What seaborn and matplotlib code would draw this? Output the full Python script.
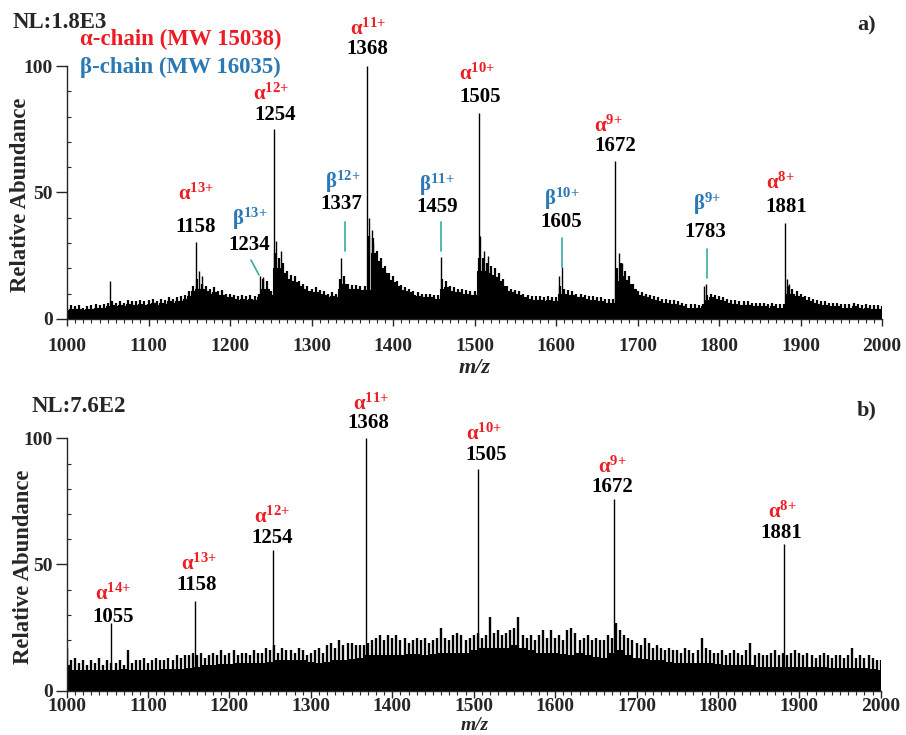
import numpy as np
import pandas as pd
import matplotlib
matplotlib.use("Agg")
import matplotlib.pyplot as plt
import seaborn as sns
from matplotlib.ticker import MultipleLocator

# ---- data ----
mz_fine = np.arange(1000, 2001, 5)     # 5 m/z grid
mz_coarse = np.arange(1000, 2001, 10)  # 10 m/z grid

# a) upper edge of the dense signal (relative abundance, 5 m/z steps)
top_profile = [
    4.5, 5.5, 5, 5.5, 4.5, 5, 5.5, 6, 5.5, 6,
    6.5, 7, 6.5, 7, 6.5, 7.5, 7, 7, 7.5, 7,
    7.5, 8, 7, 8, 7.5, 8.5, 8, 8.5, 9, 9.5,
    11, 13, 16, 14, 13, 12, 12.5, 11, 11.5, 10,
    10, 9.5, 9, 9.5, 9, 9.5, 9, 10, 16, 15,
    11, 26, 24, 22, 19, 17.5, 17, 15, 14, 13,
    12, 12.5, 11.5, 11, 10, 10.5, 10, 16, 17, 14,
    13.5, 13.5, 13, 13, 33, 32, 27, 24, 21, 18,
    17, 15, 13.5, 12.5, 12, 11, 10.5, 10, 10, 10,
    9.5, 9.5, 16, 15, 13, 12.5, 12, 12, 11.5, 11,
    11, 24, 24, 22, 21, 20, 18, 16, 13, 12,
    11.5, 11, 10, 9.5, 9, 9, 9, 8.5, 9, 8.5,
    8.5, 13, 12, 11.5, 11, 10, 10, 9.5, 9, 9,
    8.5, 8.5, 8, 8, 8, 20, 22, 19, 17, 14,
    11, 10.5, 10, 9.5, 9, 8.5, 8, 8, 7.5, 7.5,
    7, 6.5, 6, 6, 6, 5.5, 6, 9.5, 10, 9.5,
    9, 8.5, 8, 7.5, 7.5, 7, 7, 7, 6.5, 6.5,
    6.5, 6.5, 6, 6.5, 6, 6, 6, 13, 12, 11,
    10, 9, 8.5, 8, 7.5, 7, 7, 6.5, 6.5, 6.5,
    6, 6, 6, 6.5, 6, 5.5, 6, 5.5, 5.5, 5.5,
    5,
]
# solid part below the jagged edge of a)
top_floor = [
    3.5, 4, 4, 4, 3.5, 4, 4, 4.5, 4.5, 4.5,
    5, 5.5, 5, 5.5, 5, 6, 5.5, 5.5, 6, 5.5,
    6, 6.5, 5.5, 6.5, 6, 7, 6.5, 7, 7, 8,
    9, 11, 12, 12, 11, 10, 10.5, 9.5, 9.5, 8.5,
    8.5, 8, 7.5, 8, 7.5, 8, 7.5, 8.5, 12, 12,
    9.5, 20, 20, 18, 16, 15, 14.5, 13, 12, 11,
    10.5, 10.5, 10, 9.5, 8.5, 9, 8.5, 12, 14, 12,
    12, 12, 11.5, 11.5, 11.5, 26, 23, 20, 18, 15.5,
    14.5, 13, 11.5, 11, 10.5, 9.5, 9, 8.5, 8.5, 8.5,
    8, 8, 12, 12.5, 11, 10.5, 10.5, 10, 10, 9.5,
    9.5, 19, 19, 18, 17.5, 16.5, 15, 13, 11, 10.5,
    10, 9.5, 8.5, 8, 7.5, 7.5, 7.5, 7, 7.5, 7,
    7, 10, 10, 9.5, 9.5, 8.5, 8.5, 8, 7.5, 7.5,
    7, 7, 6.5, 6.5, 6.5, 15, 17, 15.5, 14, 12,
    9.5, 9, 8.5, 8, 7.5, 7, 6.5, 6.5, 6, 6,
    5.5, 5, 4.5, 4.5, 4.5, 4.5, 5, 7.5, 8.5, 8,
    7.5, 7, 6.5, 6, 6, 5.5, 5.5, 5.5, 5, 5,
    5, 5, 4.5, 5, 4.5, 4.5, 4.5, 10, 10, 9,
    8.5, 7.5, 7, 6.5, 6, 5.5, 5.5, 5, 5, 5,
    4.5, 4.5, 4.5, 5, 4.5, 4, 4.5, 4, 4, 4,
    4,
]
top_spike_mz = [1053, 1162, 1165, 1237, 1240, 1256, 1263, 1336, 1371, 1374,
                1376, 1459, 1507, 1511, 1517, 1604, 1607, 1677, 1681, 1781,
                1784, 1883, 1886]
top_spike_int = [15, 19, 17, 17, 16.5, 31, 27, 24, 40, 35,
                 30, 24.5, 33, 27, 25, 17, 20.5, 26, 22, 13,
                 14, 16, 14]
top_peak_mz = [1158, 1254, 1368, 1505, 1672, 1881]
top_peak_int = [30.4, 75, 100, 81.5, 62.5, 38]

# b) solid noise level (10 m/z) and spike tops (5 m/z)
bot_level = [
    10, 8, 8, 8, 8, 8, 8, 8.5, 8, 8,
    8, 8, 8.5, 8.5, 8.5, 9, 9.5, 10, 10, 10.5,
    10.5, 11, 11, 11, 11, 11.5, 12, 12, 12, 12,
    11.5, 11, 11.5, 12, 12, 12.5, 13, 14, 14, 14,
    14, 14, 14.5, 14.5, 14, 14.5, 15, 15, 15, 15,
    16, 17, 17, 17, 17, 18, 17, 16, 15, 15,
    15, 14.5, 14, 15, 14, 13.5, 13, 15, 16, 14,
    13, 12.5, 12, 12, 11.5, 11, 11, 11, 11, 11,
    10.5, 10, 10, 10, 10, 9.5, 9.5, 9.5, 9.5, 9.5,
    9.5, 9.5, 9.5, 9.5, 9, 9, 9, 9, 9, 8.5,
    8,
]
bot_spikes = [
    17, 12, 13, 11, 12, 10, 12, 11, 13, 10,
    12, 11, 11, 12, 10, 16, 11, 12, 12, 13,
    11, 12, 13, 12, 12, 13, 12, 14, 13, 14,
    14, 15, 14, 15, 13, 14, 15, 14, 16, 14,
    15, 16, 14, 15, 15, 14, 16, 15, 15, 17,
    16, 18, 15, 17, 16, 16, 15, 17, 16, 14,
    15, 16, 17, 15, 18, 19, 17, 20, 18, 19,
    19, 18, 18, 18, 19, 20, 21, 22, 20, 22,
    21, 22, 20, 21, 19, 20, 21, 20, 21, 19,
    20, 21, 25, 21, 20, 22, 23, 22, 20, 21,
    22, 23, 21, 22, 29, 23, 24, 22, 23, 24,
    25, 29, 22, 21, 22, 20, 22, 24, 21, 24,
    21, 22, 20, 24, 25, 23, 20, 21, 22, 20,
    21, 20, 20, 22, 21, 27, 24, 22, 21, 20,
    19, 18, 21, 19, 17, 18, 17, 16, 17, 16,
    16, 15, 17, 16, 15, 16, 21, 17, 16, 15,
    15, 16, 14, 15, 16, 15, 14, 16, 19, 14,
    15, 14, 14, 15, 16, 14, 15, 14, 15, 16,
    15, 14, 15, 14, 13, 14, 15, 14, 13, 14,
    14, 13, 14, 17, 13, 14, 13, 14, 13, 12,
    12,
]
bot_peak_mz = [1055, 1158, 1254, 1368, 1505, 1672, 1881]
bot_peak_int = [26.8, 35.5, 55.7, 100, 87.8, 75.8, 58]

# peak labels: (charge, m/z text)
top_alpha = [("13", "1158"), ("12", "1254"), ("11", "1368"),
             ("10", "1505"), ("9", "1672"), ("8", "1881")]
top_beta = [("13", "1234"), ("12", "1337"), ("11", "1459"),
            ("10", "1605"), ("9", "1783")]
bot_alpha = [("14", "1055"), ("13", "1158"), ("12", "1254"), ("11", "1368"),
             ("10", "1505"), ("9", "1672"), ("8", "1881")]

# label placement (x, y of ion label, y of number) in data units
top_alpha_pos = [(1158, 49.5, 36.4), (1251, 89, 80.6), (1369, 114.5, 106.7),
                 (1503, 96.9, 87.7), (1665, 76.4, 68.4), (1876, 53.5, 44.3)]
top_alpha_num_x = [1158, 1255, 1369, 1506.6, 1673, 1882]
top_beta_pos = [(1224, 39.5, 29.2), (1338.5, 54.2, 45.5), (1454, 53, 44.3),
                (1607, 47.5, 38.3), (1785, 45.5, 34.4)]
top_beta_num_x = [1223, 1337, 1454, 1606, 1782.6]
beta_marks = [((1225.7, 1235.5), (23.3, 17.4)), ((1341, 1341), (38.3, 26.9)),
              ((1458.7, 1458.7), (38.3, 26.9)), ((1607, 1607), (32, 20.6)),
              ((1785, 1785), (27.7, 16.2))]
bot_alpha_pos = [(1057, 38.4, 29.2), (1162.5, 50.3, 41.9), (1252, 68.6, 60.5),
                 (1374, 113.5, 106), (1513, 101.5, 93.4), (1670, 88.7, 80.7),
                 (1879, 70.9, 62.5)]
bot_alpha_num_x = [1057, 1160, 1252, 1371, 1515, 1670, 1877.5]

RED = "#ED1C24"
BLUE = "#2A78B4"
TEAL = "#3AA9A3"

sns.set_theme(style="ticks")
plt.rcParams["font.family"] = ["Liberation Serif", "DejaVu Serif"]
plt.rcParams["font.weight"] = "bold"
plt.rcParams["mathtext.fontset"] = "custom"
plt.rcParams["mathtext.rm"] = "Liberation Serif:bold"
plt.rcParams["mathtext.bf"] = "Liberation Serif:bold"
plt.rcParams["mathtext.default"] = "rm"

fig = plt.figure(figsize=(9.06, 7.35), dpi=100)
ax1 = fig.add_axes([0.0740, 0.5660, 0.8996, 0.3442])
ax2 = fig.add_axes([0.0736, 0.0603, 0.8985, 0.3434])


def style_axis(ax, xpad):
    ax.set_xlim(1000, 2000)
    ax.set_ylim(0, 100)
    sns.despine(ax=ax)
    ax.spines["left"].set_linewidth(1.0)
    ax.spines["bottom"].set_linewidth(1.0)
    ax.xaxis.set_major_locator(MultipleLocator(100))
    ax.xaxis.set_minor_locator(MultipleLocator(10))
    ax.yaxis.set_major_locator(MultipleLocator(50))
    ax.yaxis.set_minor_locator(MultipleLocator(10))
    ax.tick_params(axis="x", which="major", direction="out", length=5, width=1,
                   labelsize=14, pad=xpad)
    ax.tick_params(axis="x", which="minor", direction="out", length=3, width=0.8)
    ax.tick_params(axis="y", which="major", direction="out", length=8, width=1,
                   labelsize=14, pad=2)
    ax.tick_params(axis="y", which="minor", direction="in", length=3, width=0.8)
    for lab in ax.get_xticklabels() + ax.get_yticklabels():
        lab.set_fontweight("bold")
    ax.set_xlabel("")
    ax.set_ylabel("")


def ion_text(ax, greek, color, charge, num, pos, num_x):
    x, y_lab, y_num = pos
    ax.text(x, y_lab, greek + r"$^{%s\!+}$" % charge, color=color, fontsize=15,
            fontweight="bold", ha="center", va="center", clip_on=False)
    ax.text(num_x, y_num, num, color="black", fontsize=15,
            fontweight="bold", ha="center", va="center", clip_on=False)


# ---- a) ----
ax1.fill_between(mz_fine, 0, top_floor, step="mid", color="black", lw=0)
ax1.vlines(mz_fine, 0, top_profile, color="black", lw=1.6)
sns.lineplot(x=mz_fine, y=top_floor, drawstyle="steps-mid", color="black",
             lw=0.8, ax=ax1)
ax1.vlines(top_spike_mz, 0, top_spike_int, color="black", lw=1.0)
ax1.vlines(top_peak_mz, 0, top_peak_int, color="black", lw=1.0)
style_axis(ax1, xpad=9)

for (charge, num), pos, nx in zip(top_alpha, top_alpha_pos, top_alpha_num_x):
    ion_text(ax1, "α", RED, charge, num, pos, nx)
for (charge, num), pos, nx in zip(top_beta, top_beta_pos, top_beta_num_x):
    ion_text(ax1, "β", BLUE, charge, num, pos, nx)
for xs, ys in beta_marks:
    ax1.plot(xs, ys, color=TEAL, lw=1.2)

# ---- b) ----
ax2.fill_between(mz_coarse, 0, bot_level, step="mid", color="black", lw=0)
ax2.vlines(mz_fine, 0, bot_spikes, color="black", lw=1.7)
ax2.vlines(bot_peak_mz, 0, bot_peak_int, color="black", lw=1.0)
style_axis(ax2, xpad=0.5)
for (charge, num), pos, nx in zip(bot_alpha, bot_alpha_pos, bot_alpha_num_x):
    ion_text(ax2, "α", RED, charge, num, pos, nx)

# ---- figure texts ----
W, H = 906, 735
def ft(px, py, s, **kw):
    fig.text(px / W, 1 - py / H, s, fontweight="bold", **kw)

ft(13, 22, "NL:1.8E3", fontsize=16.5, va="center", ha="left")
ft(80, 39, "α-chain (MW 15038)", fontsize=16.5, color=RED, va="center", ha="left")
ft(80, 67, "β-chain (MW 16035)", fontsize=16.5, color=BLUE, va="center", ha="left")
ft(876, 25, "a)", fontsize=16, va="center", ha="right")
ft(32, 406, "NL:7.6E2", fontsize=16.5, va="center", ha="left")
ft(877, 410, "b)", fontsize=16, va="center", ha="right")
ft(475, 368, "m/z", fontsize=16, style="italic", va="center", ha="center")
ft(475, 734, "m/z", fontsize=14, style="italic", va="bottom", ha="center")
ft(21, 195, "Relative Abundance", fontsize=16.3, rotation=90, va="center", ha="center")
ft(24, 567, "Relative Abundance", fontsize=16.3, rotation=90, va="center", ha="center")

fig.savefig("out.png", dpi=100)
